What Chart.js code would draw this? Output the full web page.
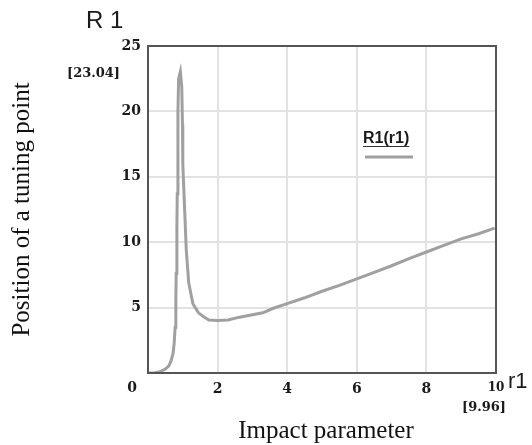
<!DOCTYPE html>
<html lang="en">

<head>
    <meta charset="UTF-8">
    <title>R1(r1)</title>
    <script src="https://cdn.jsdelivr.net/npm/chart.js"></script>
    <style>
        body {
            margin: 0;
            padding: 0;
            background: #fff;
        }

        #wrap {
            width: 532px;
            height: 445px;
        }
    </style>
</head>

<body>
    <div id="wrap"><canvas id="r1Chart" width="532" height="445"></canvas></div>

    <script>
        // impact parameter r1 and position of a tuning point R1
        const r1Values = [0, 0.2, 0.35, 0.5, 0.6, 0.66, 0.72, 0.75, 0.78, 0.8, 0.81, 0.83, 0.84, 0.86,
            0.88, 0.93, 0.97, 0.99, 1.0, 1.05, 1.1, 1.17, 1.29, 1.45, 1.6, 1.75, 2.0, 2.3, 2.6,
            3.0, 3.3, 3.6, 4.0, 4.5, 5.0, 5.5, 6.0, 6.5, 7.0, 7.5, 8.0, 8.5, 9.0, 9.5, 9.96];
        const R1Values = [0, 0.02, 0.1, 0.3, 0.55, 0.9, 1.5, 2.2, 3.5, 5.5, 7.6, 11, 13.7, 20.0,
            22.5, 23.04, 21.9, 19.0, 16.0, 12.7, 9.4, 6.9, 5.3, 4.6, 4.3, 4.05, 4.02, 4.05, 4.25,
            4.45, 4.6, 4.95, 5.3, 5.75, 6.25, 6.7, 7.2, 7.7, 8.2, 8.75, 9.25, 9.75, 10.25, 10.65, 11.07];
        const xTicks = [2, 4, 6, 8, 10];
        const yTicks = [5, 10, 15, 20, 25];
        const seriesLabel = 'R1(r1)';

        const points = r1Values.map((r, i) => ({ x: r, y: R1Values[i] }));

        const extras = {
            id: 'extras',
            afterDatasetsDraw(chart) {
                const c = chart.ctx;
                const a = chart.chartArea;
                const xs = chart.scales.x;
                c.save();
                // frame
                c.strokeStyle = '#555';
                c.lineWidth = 2;
                c.strokeRect(a.left, a.top, a.right - a.left, a.bottom - a.top);

                c.fillStyle = '#1a1a1a';
                c.textBaseline = 'alphabetic';
                c.font = '24px "Liberation Sans", Arial, sans-serif';
                c.textAlign = 'left';
                c.fillText('R 1', 86, 28);

                c.font = 'bold 13px "DejaVu Serif", serif';
                c.textAlign = 'right';
                c.fillText('[' + Math.max(...R1Values).toFixed(2) + ']', 120, 77);

                c.font = 'bold 14px "DejaVu Serif", serif';
                c.textAlign = 'center';
                c.fillText('0', xs.getPixelForValue(0) - 16, 392);

                c.font = '22px "Liberation Sans", Arial, sans-serif';
                c.textAlign = 'left';
                c.fillText('r1', 508, 388);

                c.font = 'bold 13px "DejaVu Serif", serif';
                c.textAlign = 'center';
                c.fillText('[' + r1Values[r1Values.length - 1].toFixed(2) + ']', 484, 411);

                // axis titles
                c.fillStyle = '#111';
                c.font = '25px "Liberation Serif", "Times New Roman", serif';
                c.textAlign = 'center';
                c.fillText('Impact parameter', (a.left + a.right) / 2 + 4, 438);
                c.save();
                c.translate(29, (a.top + a.bottom) / 2);
                c.rotate(-Math.PI / 2);
                c.fillText('Position of a tuning point', 0, 0);
                c.restore();

                // legend
                c.fillStyle = '#1a1a1a';
                c.font = 'bold 16px "Liberation Sans", Arial, sans-serif';
                c.textAlign = 'left';
                c.fillText(seriesLabel, 363, 143);
                const w = c.measureText(seriesLabel).width;
                c.strokeStyle = '#333';
                c.lineWidth = 1;
                c.beginPath();
                c.moveTo(363, 146.5);
                c.lineTo(363 + w, 146.5);
                c.stroke();
                c.strokeStyle = '#a0a0a0';
                c.lineWidth = 3;
                c.beginPath();
                c.moveTo(365, 157);
                c.lineTo(413, 157);
                c.stroke();
                c.restore();
            }
        };

        const ctx = document.getElementById('r1Chart').getContext('2d');
        const chart = new Chart(ctx, {
            type: 'line',
            data: {
                datasets: [{
                    label: seriesLabel,
                    data: points,
                    borderColor: '#a0a0a0',
                    borderWidth: 3,
                    pointRadius: 0,
                    tension: 0,
                    fill: false
                }]
            },
            options: {
                responsive: false,
                animation: false,
                events: [],
                layout: { padding: { left: 0, top: 46, right: 36, bottom: 0 } },
                plugins: {
                    legend: { display: false },
                    tooltip: { enabled: false }
                },
                scales: {
                    x: {
                        type: 'linear',
                        min: 0,
                        max: 10,
                        afterFit(scale) { scale.height = 72; },
                        afterBuildTicks(scale) { scale.ticks = [0].concat(xTicks).map(v => ({ value: v })); },
                        grid: { color: '#e2e2e2', lineWidth: 2, drawTicks: false },
                        border: { display: true, color: '#555', width: 2 },
                        ticks: {
                            padding: 8,
                            color: '#1a1a1a',
                            maxRotation: 0,
                            font: c => ({ family: '"DejaVu Serif", serif', weight: 'bold', size: c.tick && c.tick.value === 10 ? 12 : 14 }),
                            callback: v => (v === 0 ? '' : String(v))
                        }
                    },
                    y: {
                        min: 0,
                        max: 25,
                        afterFit(scale) { scale.width = 148; },
                        afterBuildTicks(scale) { scale.ticks = [0].concat(yTicks).map(v => ({ value: v })); },
                        grid: { color: '#e2e2e2', lineWidth: 2, drawTicks: false },
                        border: { display: true, color: '#555', width: 2 },
                        ticks: {
                            padding: 7,
                            color: '#1a1a1a',
                            font: { family: '"DejaVu Serif", serif', weight: 'bold', size: 14 },
                            callback: v => (v === 0 ? '' : String(v))
                        }
                    }
                }
            },
            plugins: [extras]
        });
    </script>
</body>

</html>
